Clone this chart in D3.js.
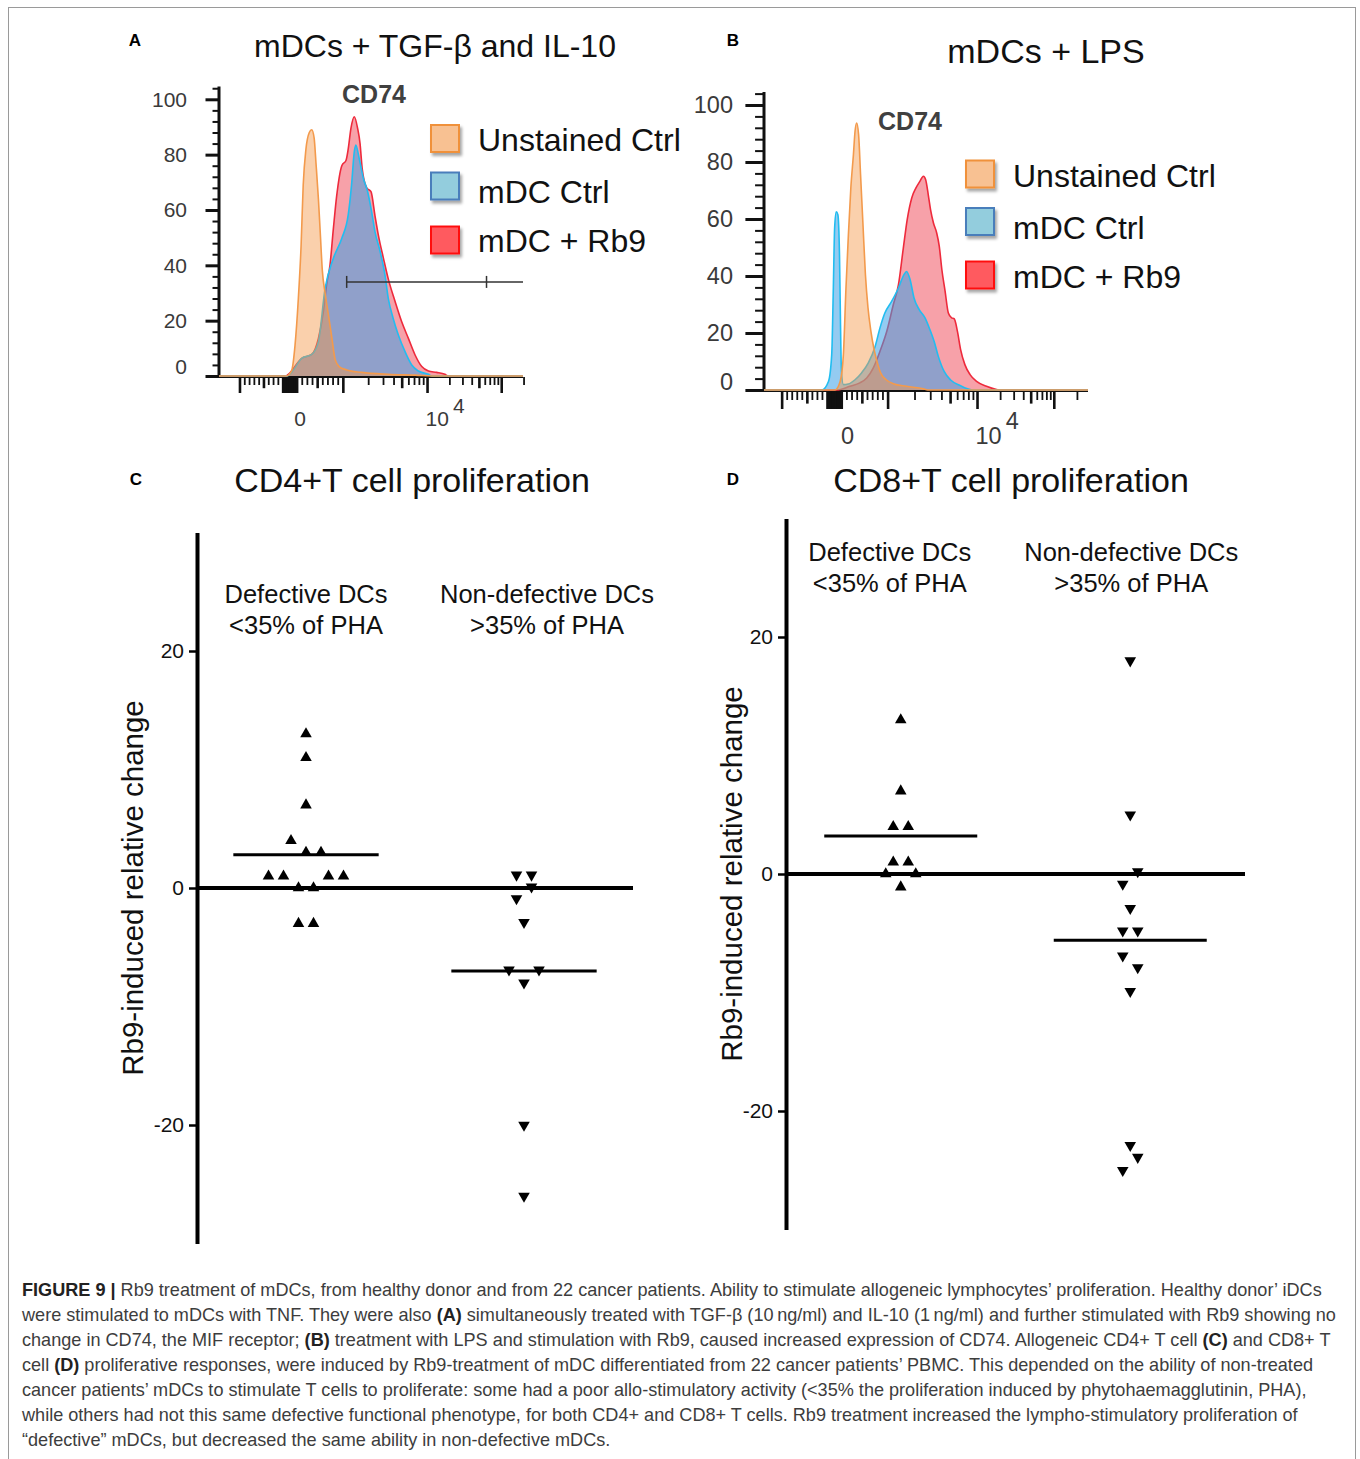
<!DOCTYPE html>
<html>
<head>
<meta charset="utf-8">
<script src="https://cdn.jsdelivr.net/npm/d3@7"></script>
<style>
  body { margin: 0; background: #fff; }
  svg text { font-family: "Liberation Sans", Arial, sans-serif; }
</style>
</head>
<body>
<script>

// ---- data: flow cytometry histograms (x in display channels 0-1000, y in % of max) ----
var HIST_SERIES = ["Unstained Ctrl", "mDC Ctrl", "mDC + Rb9"];

var histA_unstained = [[0,0],[222,0],[239,2],[250,11],[261,28],[270,47],[277,69],[286,82],[297,88],[305,89],[313,86],[319,77],[327,64],[333,52],[340,38],[349,30],[360,22],[371,14],[382,6],[395,3.4],[420,2.2],[469,1.3],[557,0.6],[645,0.3],[710,0],[1000,0]];
var histA_ctrl = [[0,0],[225,0],[239,1.3],[272,6.4],[305,7.8],[327,12.4],[349,31.7],[376,42.5],[404,49.8],[425,58.2],[436,69],[445,81],[450,83.5],[461,78.7],[475,71.4],[489,66.6],[502,59.4],[513,52.2],[530,45],[546,36.5],[557,28],[573,20.8],[590,14.8],[612,8.8],[634,4],[656,1.8],[689,0.6],[700,0],[1000,0]];
var histA_rb9 = [[0,0],[220,0],[228,0.6],[272,6.4],[305,7.8],[327,13.6],[343,23],[354,33],[365,40],[376,53],[387,65],[404,76],[418,78],[425,82],[434,89.5],[445,93.7],[456,89.5],[464,84],[471,75],[486,68],[500,66.6],[513,58],[524,51],[541,42.5],[557,35],[579,27],[601,19.6],[623,13.6],[645,7.6],[667,3.4],[689,1.8],[716,1.3],[743,0.6],[754,0],[1000,0]];

var histB_unstained = [[0,0],[219,0],[235,3],[245,12.4],[253,35.8],[260,53.3],[268,70.9],[276,82.6],[281,90.8],[286,93.7],[292,89.6],[298,75.6],[305,59.2],[313,40.5],[321,28.8],[330,20.6],[340,14.1],[350,9.5],[360,6],[377,3.6],[399,2.2],[440,1.3],[492,0.4],[505,0],[1000,0]];
var histB_ctrl = [[0,0],[178,0],[199,3],[209,12.4],[214,35.8],[218,56.8],[223,62.5],[228,61.5],[233,47.5],[236,24.1],[239,6.5],[245,1.9],[260,2.1],[281,3.6],[301,6],[322,9.5],[343,15.3],[358,21.8],[373,27],[394,31.1],[415,35.8],[432,40.5],[440,41.6],[451,38.7],[463,32.3],[479,28.2],[497,25.3],[512,21.2],[525,17.1],[538,11.8],[556,6.5],[576,3.5],[605,1.6],[646,0],[1000,0]];
var histB_rb9 = [[0,0],[224,0],[265,1.3],[296,2.5],[317,4.2],[337,7.7],[358,13.6],[379,20.6],[399,29.9],[415,37],[430,49.8],[442,59.8],[456,67.4],[469,70.9],[481,73.2],[492,75],[499,73.8],[507,68.5],[514,63.3],[523,58.6],[533,55.1],[541,50.4],[549,42.2],[559,34.6],[569,27],[579,25.3],[587,25],[597,20.6],[607,14.1],[620,8.9],[636,5.4],[656,3],[687,1.3],[728,0],[1000,0]];

// biexponential axis calibration: [fluorescence value, display channel]
var AXIS_ANCHORS_A = [[-1000,69],[-100,211],[0,234],[100,257],[1000,409],[10000,686],[100000,930]];
var AXIS_ANCHORS_B = [[-1000,56],[-100,196],[0,218],[100,240],[1000,383],[10000,659],[100000,896]];
var HIST_Y_TICKS = [0, 20, 40, 60, 80, 100];
var GATE_A = { from: 420, mid: 880, to: 1000, level: 34 };

// ---- data: T cell proliferation (Rb9-induced relative change) ----
var GROUPS = ["Defective DCs", "Non-defective DCs"];
var GROUP_SUB = ["<35% of PHA", ">35% of PHA"];
var PROLIF_Y_TICKS = [-20, 0, 20];

var cd4_defective = [13, 11, 7, 4, 3, 3, 1, 1, 1, 1, 0, 0, -3, -3];
var cd4_defective_col = [0, 0, 0, -1, 0, 1, -2.5, -1.5, 1.5, 2.5, -0.5, 0.5, -0.5, 0.5];
var cd4_nondefective = [1.1, 1.1, 0.1, -0.9, -2.9, -6.9, -6.9, -8, -20, -26];
var cd4_nondefective_col = [-0.5, 0.5, 0.5, -0.5, 0, -1, 1, 0, 0, 0];
var cd4_means = [2.8, -7.0];

var cd8_defective = [13, 7, 4, 4, 1, 1, 0, 0, -1.1];
var cd8_defective_col = [0, 0, -0.5, 0.5, -0.5, 0.5, -1, 1, 0];
var cd8_nondefective = [18, 5, 0.2, -0.85, -2.9, -4.8, -4.8, -6.9, -7.9, -9.9, -22.9, -23.9, -25];
var cd8_nondefective_col = [0, 0, 0.5, -0.5, 0, -0.5, 0.5, -0.5, 0.5, 0, 0, 0.5, -0.5];
var cd8_means = [3.2, -5.6];

var CAPTION = [
  [["FIGURE 9 | ", true], ["Rb9 treatment of mDCs, from healthy donor and from 22 cancer patients. Ability to stimulate allogeneic lymphocytes\u2019 proliferation. Healthy donor\u2019 iDCs", false]],
  [["were stimulated to mDCs with TNF. They were also ", false], ["(A)", true], [" simultaneously treated with TGF-\u03b2 (10\u2009ng/ml) and IL-10 (1\u2009ng/ml) and further stimulated with Rb9 showing no", false]],
  [["change in CD74, the MIF receptor; ", false], ["(B)", true], [" treatment with LPS and stimulation with Rb9, caused increased expression of CD74. Allogeneic CD4+ T cell ", false], ["(C)", true], [" and CD8+ T", false]],
  [["cell ", false], ["(D)", true], [" proliferative responses, were induced by Rb9-treatment of mDC differentiated from 22 cancer patients\u2019 PBMC. This depended on the ability of non-treated", false]],
  [["cancer patients\u2019 mDCs to stimulate T cells to proliferate: some had a poor allo-stimulatory activity (<35% the proliferation induced by phytohaemagglutinin, PHA),", false]],
  [["while others had not this same defective functional phenotype, for both CD4+ and CD8+ T cells. Rb9 treatment increased the lympho-stimulatory proliferation of", false]],
  [["\u201cdefective\u201d mDCs, but decreased the same ability in non-defective mDCs.", false]]
];

// ---- styles ----
var CHANNEL_MAX = 1000;
var HIST_FILL = ["rgba(245,150,70,0.45)", "rgba(60,160,230,0.55)", "rgba(235,30,50,0.42)"];
var HIST_LINE = ["#f39a4c", "#22bdf0", "#ee2a3c"];
var LEGEND_FILL = ["#f8c192", "#93cddd", "#ff5a5f"];
var LEGEND_STROKE = ["#f0913a", "#4a7ebb", "#ff1010"];
var SANS = "'Liberation Sans', Arial, sans-serif";

var svg = d3.select("body").append("svg")
    .attr("width", 1360)
    .attr("height", 1459);

var defs = svg.append("defs");
defs.append("filter")
    .attr("id", "shadow")
    .attr("x", "-30%").attr("y", "-30%").attr("width", "170%").attr("height", "170%")
  .append("feDropShadow")
    .attr("dx", 2).attr("dy", 3).attr("stdDeviation", 1.6)
    .attr("flood-color", "#000").attr("flood-opacity", 0.35);

// figure frame
svg.append("rect")
    .attr("x", 8.5).attr("y", 7.5)
    .attr("width", 1347).attr("height", 1490)
    .attr("fill", "none")
    .attr("stroke", "#9a9a9a");

function panelLetter(letter, x, y) {
  svg.append("text")
      .attr("x", x).attr("y", y)
      .attr("text-anchor", "middle")
      .attr("font-weight", "bold")
      .attr("font-size", 17)
      .text(letter);
}

function title(txt, x, y, size) {
  svg.append("text")
      .attr("x", x).attr("y", y)
      .attr("text-anchor", "middle")
      .attr("font-size", size)
      .attr("fill", "#111")
      .text(txt);
}

// value -> display channel, linear around zero, log between decades
function biex(anchors) {
  return function (v) {
    for (var i = 0; i < anchors.length - 1; i++) {
      var a = anchors[i], b = anchors[i + 1];
      if (v <= b[0] || i === anchors.length - 2) {
        var t;
        if (a[0] >= 1000) t = Math.log10(v / a[0]) / Math.log10(b[0] / a[0]);
        else t = (v - a[0]) / (b[0] - a[0]);
        return a[1] + t * (b[1] - a[1]);
      }
    }
  };
}

function biexTickValues() {
  var t = [{ v: -1000, k: "major" }];
  var v;
  for (v = -900; v <= -200; v += 100) t.push({ v: v, k: v === -500 ? "mid" : "minor" });
  for (v = -100; v <= 100; v += 10) t.push({ v: v, k: "major" });
  for (v = 200; v <= 900; v += 100) t.push({ v: v, k: v === 500 ? "mid" : "minor" });
  [1000, 10000, 100000].forEach(function (dec) {
    t.push({ v: dec, k: "major" });
    for (var m = 2; m <= 9; m++) t.push({ v: m * dec, k: m === 5 ? "mid" : "minor" });
  });
  return t;
}

function drawHistogram(cfg) {
  var g = svg.append("g");
  var x = d3.scaleLinear().domain([0, CHANNEL_MAX]).range([cfg.left, cfg.right]);
  var y = d3.scaleLinear().domain([0, 100]).range([cfg.bottom, cfg.top100]);
  var toChannel = biex(cfg.anchors);

  var area = d3.area()
      .curve(d3.curveMonotoneX)
      .x(function (d) { return x(d[0]); })
      .y0(y(0))
      .y1(function (d) { return y(d[1]); });
  var line = d3.line()
      .curve(d3.curveMonotoneX)
      .x(function (d) { return x(d[0]); })
      .y(function (d) { return y(d[1]); });

  // x axis baseline + biex ticks
  g.append("line")
      .attr("x1", cfg.left).attr("x2", cfg.right)
      .attr("y1", y(0) + 1).attr("y2", y(0) + 1)
      .attr("stroke", "#111").attr("stroke-width", 2);

  var len = { major: cfg.xTickLen, mid: cfg.xTickLen * 0.7, minor: cfg.xTickLen * 0.5 };
  var ticks = biexTickValues().filter(function (d) {
    var c = toChannel(d.v);
    return c >= 0 && c <= CHANNEL_MAX + 6;
  });
  g.selectAll(".xtick")
      .data(ticks)
      .enter().append("line")
      .attr("class", "xtick")
      .attr("x1", function (d) { return x(toChannel(d.v)); })
      .attr("x2", function (d) { return x(toChannel(d.v)); })
      .attr("y1", y(0) + 1)
      .attr("y2", function (d) { return y(0) + 1 + len[d.k]; })
      .attr("stroke", "#111")
      .attr("stroke-width", function (d) { return d.k === "minor" ? 1.8 : 2.6; });

  g.append("text")
      .attr("x", x(toChannel(0)) + cfg.labelShift)
      .attr("y", y(0) + cfg.xLabelDy)
      .attr("text-anchor", "middle")
      .attr("font-size", cfg.labelSize)
      .attr("fill", "#3a3a3a")
      .text("0");
  var dec = g.append("text")
      .attr("x", x(toChannel(10000)) - 2)
      .attr("y", y(0) + cfg.xLabelDy)
      .attr("font-size", cfg.labelSize)
      .attr("fill", "#3a3a3a")
      .text("10");
  dec.append("tspan")
      .attr("dx", 4)
      .attr("dy", -cfg.labelSize * 0.62)
      .text("4");

  // y axis
  var yMajor = d3.axisLeft(y)
      .tickValues(HIST_Y_TICKS)
      .tickSize(cfg.yTickLen)
      .tickSizeOuter(0)
      .tickPadding(cfg.yLabelPad);
  var ya = g.append("g")
      .attr("transform", "translate(" + cfg.left + ",0)")
      .call(yMajor);
  ya.select(".domain").remove();
  ya.selectAll(".tick line").attr("stroke", "#111").attr("stroke-width", 3);
  ya.selectAll(".tick text")
      .attr("font-family", SANS)
      .attr("font-size", cfg.labelSize)
      .attr("fill", "#3a3a3a")
      .filter(function (d) { return d === 0; })
      .attr("y", -cfg.zeroLabelLift);

  var yMinor = d3.axisLeft(y)
      .tickValues(d3.range(0, cfg.axisTop, 4).filter(function (v) { return v % 20 !== 0; }))
      .tickSize(cfg.yTickLen * 0.48)
      .tickSizeOuter(0)
      .tickFormat("");
  var ym = g.append("g")
      .attr("transform", "translate(" + cfg.left + ",0)")
      .call(yMinor);
  ym.select(".domain").remove();
  ym.selectAll(".tick line").attr("stroke", "#111").attr("stroke-width", 2);

  g.append("line")
      .attr("x1", cfg.left).attr("x2", cfg.left)
      .attr("y1", y(0) + 2).attr("y2", y(cfg.axisTop))
      .attr("stroke", "#111").attr("stroke-width", 3);

  // overlaid histograms: Rb9 first, unstained last
  [2, 1, 0].forEach(function (i) {
    g.append("path")
        .attr("d", area(cfg.series[i]))
        .attr("fill", HIST_FILL[i]);
    g.append("path")
        .attr("d", line(cfg.series[i]))
        .attr("fill", "none")
        .attr("stroke", HIST_LINE[i])
        .attr("stroke-width", 1.6)
        .attr("stroke-linejoin", "round");
  });

  // gate
  if (cfg.gate) {
    var gy = y(cfg.gate.level);
    g.append("line")
        .attr("x1", x(cfg.gate.from)).attr("x2", x(cfg.gate.to))
        .attr("y1", gy).attr("y2", gy)
        .attr("stroke", "#333").attr("stroke-width", 1.5);
    [cfg.gate.from, cfg.gate.mid].forEach(function (c) {
      g.append("line")
          .attr("x1", x(c)).attr("x2", x(c))
          .attr("y1", gy - 6).attr("y2", gy + 6)
          .attr("stroke", "#333").attr("stroke-width", 1.5);
    });
  }

  g.append("text")
      .attr("x", cfg.markerX).attr("y", cfg.markerY)
      .attr("text-anchor", "middle")
      .attr("font-weight", "bold")
      .attr("font-size", 25)
      .attr("fill", "#404040")
      .text("CD74");

  // legend
  var lg = g.selectAll(".leg")
      .data(HIST_SERIES)
      .enter().append("g")
      .attr("class", "leg");
  lg.append("rect")
      .attr("x", cfg.legX)
      .attr("y", function (d, i) { return cfg.legY[i] - 13.5; })
      .attr("width", 28).attr("height", 27)
      .attr("fill", function (d, i) { return LEGEND_FILL[i]; })
      .attr("stroke", function (d, i) { return LEGEND_STROKE[i]; })
      .attr("stroke-width", 2)
      .attr("filter", "url(#shadow)");
  lg.append("text")
      .attr("x", cfg.legX + 47)
      .attr("y", function (d, i) { return cfg.legY[i] + cfg.legTextDy[i]; })
      .attr("font-family", "Lato, 'Open Sans', sans-serif")
      .attr("font-size", 32)
      .attr("fill", "#111")
      .text(function (d) { return d; });
}

function drawProlif(cfg) {
  var g = svg.append("g");
  var x = d3.scalePoint().domain(GROUPS).range([cfg.left, cfg.right]).padding(0.5);
  var y = d3.scaleLinear().domain([-30, 30]).range([cfg.bottom, cfg.top]);
  var slot = 15;

  var yAxis = d3.axisLeft(y)
      .tickValues(PROLIF_Y_TICKS)
      .tickSize(8)
      .tickSizeOuter(0)
      .tickPadding(5)
      .tickFormat(function (d) { return String(d); });
  var ya = g.append("g")
      .attr("transform", "translate(" + cfg.left + ",0)")
      .call(yAxis);
  ya.select(".domain").attr("stroke", "#000").attr("stroke-width", 4);
  ya.selectAll(".tick line").attr("stroke", "#000").attr("stroke-width", 2.5);
  ya.selectAll(".tick text")
      .attr("font-family", SANS)
      .attr("font-size", 21)
      .attr("fill", "#111");

  g.append("line")
      .attr("x1", cfg.left).attr("x2", cfg.right)
      .attr("y1", y(0)).attr("y2", y(0))
      .attr("stroke", "#000").attr("stroke-width", 4);

  g.append("text")
      .attr("transform", "translate(" + cfg.yTitleX + "," + ((y(30) + y(-30)) / 2) + ") rotate(-90)")
      .attr("text-anchor", "middle")
      .attr("font-size", 29.5)
      .attr("fill", "#111")
      .text("Rb9-induced relative change");

  // group labels
  GROUPS.forEach(function (grp, i) {
    var cx = x(grp) + cfg.labelShift[i];
    g.append("text")
        .attr("x", cx).attr("y", cfg.labelY)
        .attr("text-anchor", "middle")
        .attr("font-size", 25.5)
        .attr("fill", "#111")
        .text(grp);
    g.append("text")
        .attr("x", cx).attr("y", cfg.labelY + 31)
        .attr("text-anchor", "middle")
        .attr("font-size", 25.5)
        .attr("fill", "#111")
        .text(GROUP_SUB[i]);
  });

  var tri = d3.symbol().type(d3.symbolTriangle).size(58);
  cfg.groups.forEach(function (grp, gi) {
    var pts = grp.values.map(function (v, i) { return { v: v, col: grp.cols[i] }; });
    g.selectAll(".pt" + gi)
        .data(pts)
        .enter().append("path")
        .attr("class", "pt" + gi)
        .attr("d", tri)
        .attr("transform", function (d) {
          return "translate(" + (x(GROUPS[gi]) + d.col * slot) + "," + y(d.v) + ")" + (gi === 1 ? " rotate(180)" : "");
        })
        .attr("fill", "#000");

    g.append("line")
        .attr("x1", x(GROUPS[gi]) - x.step() / 3)
        .attr("x2", x(GROUPS[gi]) + x.step() / 3)
        .attr("y1", y(cfg.means[gi]))
        .attr("y2", y(cfg.means[gi]))
        .attr("stroke", "#000")
        .attr("stroke-width", 3);
  });
}

// ---------- panel A ----------
panelLetter("A", 135, 46);
title("mDCs + TGF-\u03b2 and IL-10", 435, 57, 32);
drawHistogram({
  left: 219, right: 523, bottom: 376, top100: 99.3, axisTop: 104.6,
  anchors: AXIS_ANCHORS_A,
  series: [histA_unstained, histA_ctrl, histA_rb9],
  gate: GATE_A,
  xTickLen: 16, xLabelDy: 50, labelShift: 10,
  yTickLen: 13.5, yLabelPad: 18.5, zeroLabelLift: 9,
  labelSize: 21,
  markerX: 374, markerY: 103,
  legX: 431, legY: [138.5, 186, 240], legTextDy: [12, 17, 12]
});

// ---------- panel B ----------
panelLetter("B", 733, 46);
title("mDCs + LPS", 1046, 63, 34);
drawHistogram({
  left: 764, right: 1088, bottom: 390, top100: 105, axisTop: 104.6,
  anchors: AXIS_ANCHORS_B,
  series: [histB_unstained, histB_ctrl, histB_rb9],
  gate: null,
  xTickLen: 18, xLabelDy: 54, labelShift: 13,
  yTickLen: 18.6, yLabelPad: 12.4, zeroLabelLift: 8,
  labelSize: 23.5,
  markerX: 910, markerY: 130,
  legX: 966, legY: [174, 221.5, 275], legTextDy: [12.5, 17.5, 12.5]
});

// ---------- panel C ----------
panelLetter("C", 136, 485);
title("CD4+T cell proliferation", 412, 492, 34);
drawProlif({
  left: 197, right: 633, top: 532.5, bottom: 1243.5,
  yTitleX: 142.5, labelY: 603, labelShift: [0, 23],
  groups: [
    { values: cd4_defective, cols: cd4_defective_col },
    { values: cd4_nondefective, cols: cd4_nondefective_col }
  ],
  means: cd4_means
});

// ---------- panel D ----------
panelLetter("D", 733, 485);
title("CD8+T cell proliferation", 1011, 492, 34);
drawProlif({
  left: 786, right: 1245, top: 518.5, bottom: 1229.5,
  yTitleX: 741.5, labelY: 561, labelShift: [-11, 1],
  groups: [
    { values: cd8_defective, cols: cd8_defective_col },
    { values: cd8_nondefective, cols: cd8_nondefective_col }
  ],
  means: cd8_means
});

// ---------- caption ----------
var cap = svg.append("g");
CAPTION.forEach(function (segs, i) {
  var t = cap.append("text")
      .attr("x", 22)
      .attr("y", 1296 + i * 25)
      .attr("font-size", 18.1)
      .attr("fill", "#3d3d3d");
  segs.forEach(function (s) {
    t.append("tspan")
        .attr("font-weight", s[1] ? "bold" : null)
        .attr("fill", s[1] ? "#222" : null)
        .text(s[0]);
  });
});

</script>
</body>
</html>
